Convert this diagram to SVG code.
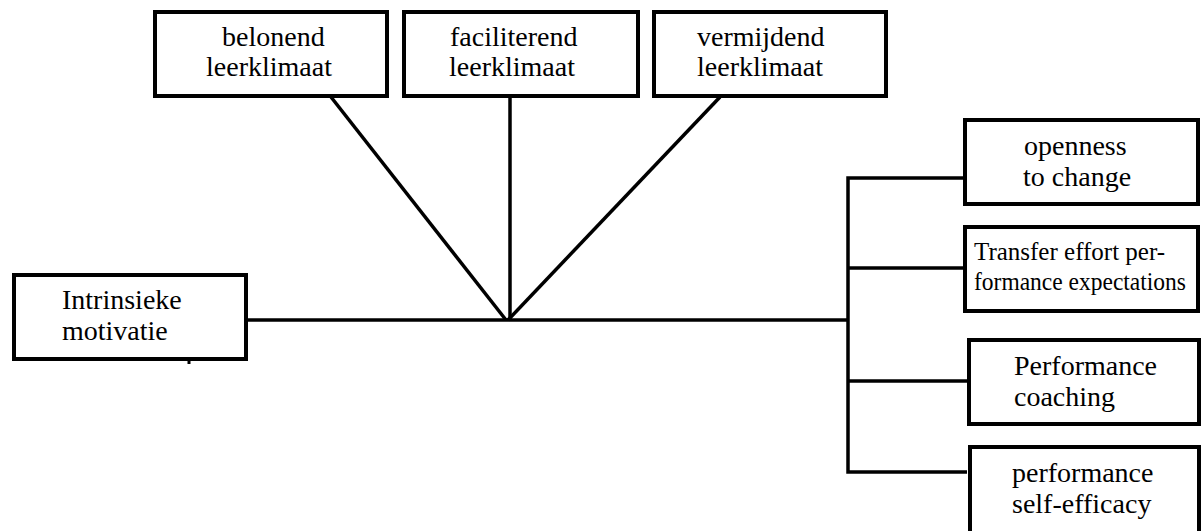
<svg xmlns="http://www.w3.org/2000/svg" width="1201" height="531" viewBox="0 0 1201 531">
<style>
.box{fill:#fff;stroke:#000;stroke-width:4}
.t{font-family:'Liberation Serif','DejaVu Serif',serif;font-size:28px;fill:#000}
.s{font-size:25px}
.c{fill:none;stroke:#000;stroke-width:3.5}
</style>
<rect width="1201" height="531" fill="#fff"/>
<g id="connectors">
<line class="c" x1="248" y1="320" x2="848" y2="320"/>
<line class="c" x1="331" y1="97" x2="506" y2="320"/>
<line class="c" x1="510" y1="97" x2="510" y2="320"/>
<line class="c" x1="720" y1="97" x2="508" y2="320"/>
<polyline class="c" points="963,178 848,178 848,472 967,472"/>
<line class="c" x1="848" y1="268" x2="963" y2="268"/>
<line class="c" x1="848" y1="381" x2="967" y2="381"/>
<line x1="189" y1="360" x2="189" y2="364" stroke="#000" stroke-width="3"/>
</g>
<g id="belonend">
<rect class="box" x="155" y="12" width="232" height="84"/>
<text class="t" x="222" y="46">belonend</text>
<text class="t" x="206" y="76">leerklimaat</text>
</g>
<g id="faciliterend">
<rect class="box" x="404" y="12" width="234" height="84"/>
<text class="t" x="450" y="46">faciliterend</text>
<text class="t" x="449" y="76">leerklimaat</text>
</g>
<g id="vermijdend">
<rect class="box" x="654" y="12" width="232" height="84"/>
<text class="t" x="697" y="46">vermijdend</text>
<text class="t" x="697" y="76">leerklimaat</text>
</g>
<g id="intrinsieke">
<rect class="box" x="14" y="275" width="232" height="84"/>
<text class="t" x="62" y="309">Intrinsieke</text>
<text class="t" x="62" y="340">motivatie</text>
</g>
<g id="openness">
<rect class="box" x="965" y="120" width="233" height="84"/>
<text class="t" x="1024" y="155">openness</text>
<text class="t" x="1023" y="186">to change</text>
</g>
<g id="transfer">
<rect class="box" x="965" y="227" width="233" height="84"/>
<text class="t s" x="974" y="260">Transfer effort per-</text>
<text class="t s" x="974" y="290" textLength="212" lengthAdjust="spacingAndGlyphs">formance expectations</text>
</g>
<g id="coaching">
<rect class="box" x="969" y="340" width="230" height="84"/>
<text class="t" x="1014" y="375">Performance</text>
<text class="t" x="1014" y="406">coaching</text>
</g>
<g id="selfefficacy">
<rect class="box" x="970" y="447" width="229" height="90"/>
<text class="t" x="1012" y="482">performance</text>
<text class="t" x="1012" y="513">self-efficacy</text>
</g>
</svg>
